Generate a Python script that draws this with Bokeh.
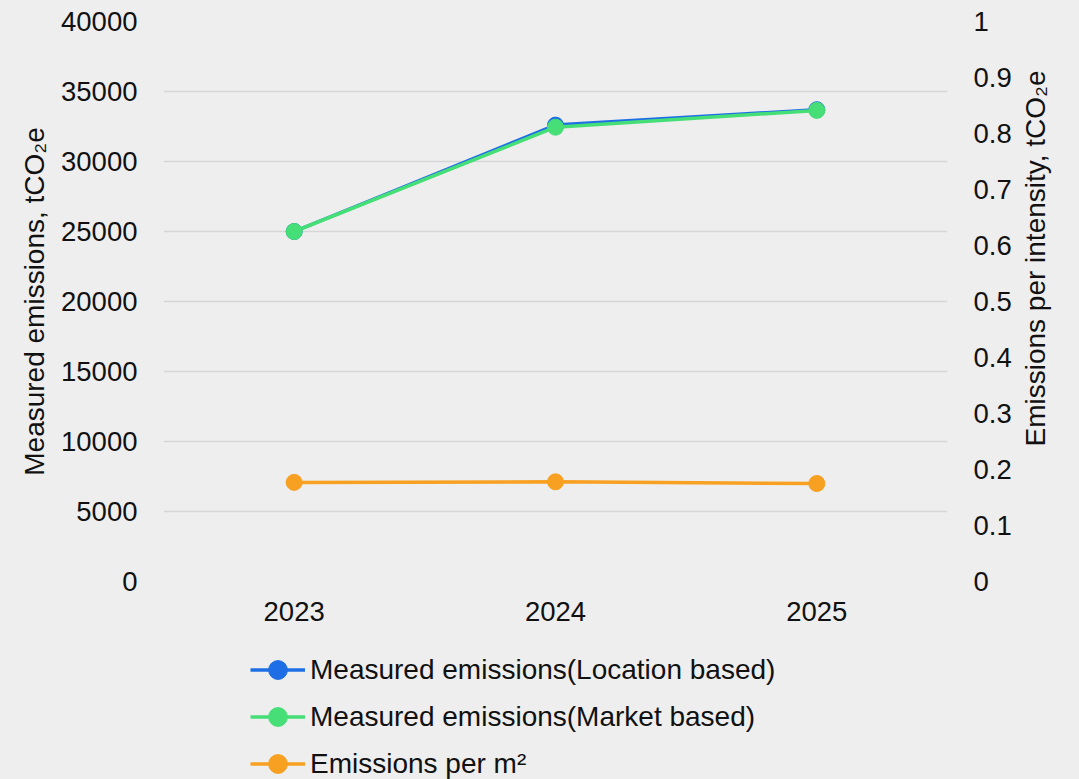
import math
from bokeh.plotting import figure
from bokeh.layouts import column
from bokeh.models import (Range1d, LinearAxis, FixedTicker, CustomJSTickFormatter,
                          BasicTickFormatter, Legend, LegendItem, FactorRange)
from bokeh.embed import file_html
from bokeh.resources import INLINE

years = ["2023", "2024", "2025"]
location_based = [25000, 32600, 33700]
market_based = [25000, 32450, 33650]
per_m2 = [0.177, 0.178, 0.175]
left_ticks = [0, 5000, 10000, 15000, 20000, 25000, 30000, 35000, 40000]
right_ticks = [0, 0.1, 0.2, 0.3, 0.4, 0.5, 0.6, 0.7, 0.8, 0.9, 1.0]
left_title = "Measured emissions, tCO\u2082e"
right_title = "Emissions per intensity, tCO\u2082e"
labels = ["Measured emissions(Location based)", "Measured emissions(Market based)",
          "Emissions per m\u00b2"]

BG = "#EEEEEE"
FONT = "Liberation Sans"
FS = "27.5px"
TFS = "28px"
LFS = "28px"
BLUE = "#1E6FE6"
GREEN = "#46DE76"
ORANGE = "#F7A021"
TXT = "#111111"

p = figure(x_range=FactorRange(*years, range_padding=0), y_range=Range1d(0, 40000),
           frame_width=784, frame_height=560, output_backend="svg", toolbar_location=None,
           background_fill_color=None, border_fill_color=BG, outline_line_color=None,
           min_border_left=163, min_border_right=132, min_border_top=21, min_border_bottom=63)
p.extra_y_ranges = {"right": Range1d(0, 1)}

p.xgrid.grid_line_color = None
p.ygrid.grid_line_color = "#D6D6D6"
p.ygrid.grid_line_width = 1.5
p.yaxis.ticker = FixedTicker(ticks=left_ticks)

def style_axis(ax):
    ax.axis_line_color = None
    ax.major_tick_line_color = None
    ax.minor_tick_line_color = None
    ax.major_tick_out = 0
    ax.major_label_text_font = FONT
    ax.major_label_text_font_size = FS
    ax.major_label_text_color = TXT
    ax.axis_label_text_font = FONT
    ax.axis_label_text_font_size = TFS
    ax.axis_label_text_font_style = "normal"
    ax.axis_label_text_color = TXT

for ax in [p.xaxis[0], p.yaxis[0]]:
    style_axis(ax)
p.yaxis[0].formatter = BasicTickFormatter(use_scientific=False)
p.yaxis[0].major_label_standoff = 26
p.yaxis[0].axis_label = left_title
p.yaxis[0].axis_label_standoff = 8
p.xaxis[0].major_label_standoff = 20

right = LinearAxis(y_range_name="right", ticker=FixedTicker(ticks=right_ticks),
                   formatter=CustomJSTickFormatter(code="return (Math.round(tick*10)/10).toString();"))
style_axis(right)
right.major_label_standoff = 26
p.add_layout(right, "right")

# right-hand title: bottom-to-top text, starting near 0.241 on the right scale
title_axis = LinearAxis(y_range_name="right", ticker=FixedTicker(ticks=[0.241]),
                        formatter=CustomJSTickFormatter(code="return %r;" % right_title))
style_axis(title_axis)
title_axis.major_label_text_font_size = TFS
title_axis.major_label_orientation = math.pi / 2
title_axis.major_label_standoff = 21
p.add_layout(title_axis, "right")

r1l = p.line(years, location_based, line_color=BLUE, line_width=3.5)
r1m = p.scatter(years, location_based, size=16, fill_color=BLUE, line_color=BLUE)
r2l = p.line(years, market_based, line_color=GREEN, line_width=3.5)
r2m = p.scatter(years, market_based, size=16, fill_color=GREEN, line_color=GREEN)
r3l = p.line(years, per_m2, line_color=ORANGE, line_width=3.5, y_range_name="right")
r3m = p.scatter(years, per_m2, size=16, fill_color=ORANGE, line_color=ORANGE, y_range_name="right")

# legend strip below the chart (same series, drawn outside its visible range)
lf = figure(x_range=FactorRange(*years, range_padding=0), y_range=Range1d(-2, -1),
            width=1079, height=135, output_backend="svg", toolbar_location=None,
            x_axis_type=None, y_axis_type=None,
            background_fill_color=None, border_fill_color=BG, outline_line_color=None,
            min_border=0)
lf.xgrid.visible = False
lf.ygrid.visible = False
l1l = lf.line(years, location_based, line_color=BLUE, line_width=3.5)
l1m = lf.scatter(years, location_based, size=15, fill_color=BLUE, line_color=BLUE)
l2l = lf.line(years, market_based, line_color=GREEN, line_width=3.5)
l2m = lf.scatter(years, market_based, size=15, fill_color=GREEN, line_color=GREEN)
l3l = lf.line(years, per_m2, line_color=ORANGE, line_width=3.5)
l3m = lf.scatter(years, per_m2, size=15, fill_color=ORANGE, line_color=ORANGE)

legend = Legend(items=[
    LegendItem(label=labels[0], renderers=[l1l, l1m]),
    LegendItem(label=labels[1], renderers=[l2l, l2m]),
    LegendItem(label=labels[2], renderers=[l3l, l3m]),
], orientation="vertical", location=(87, -8))
legend.background_fill_alpha = 0
legend.border_line_color = None
legend.label_text_font = FONT
legend.label_text_font_size = LFS
legend.label_text_color = TXT
legend.glyph_width = 55
legend.glyph_height = 47
legend.label_height = 47
legend.label_standoff = 5
legend.spacing = 0
legend.padding = 0
legend.margin = 0
lf.add_layout(legend, "center")

layout = column(p, lf, spacing=0)
html = file_html(layout, INLINE)
html = html.replace("</head>", "<style>html, body {background: #EEEEEE;}</style></head>", 1)
open("out.html", "w").write(html)
